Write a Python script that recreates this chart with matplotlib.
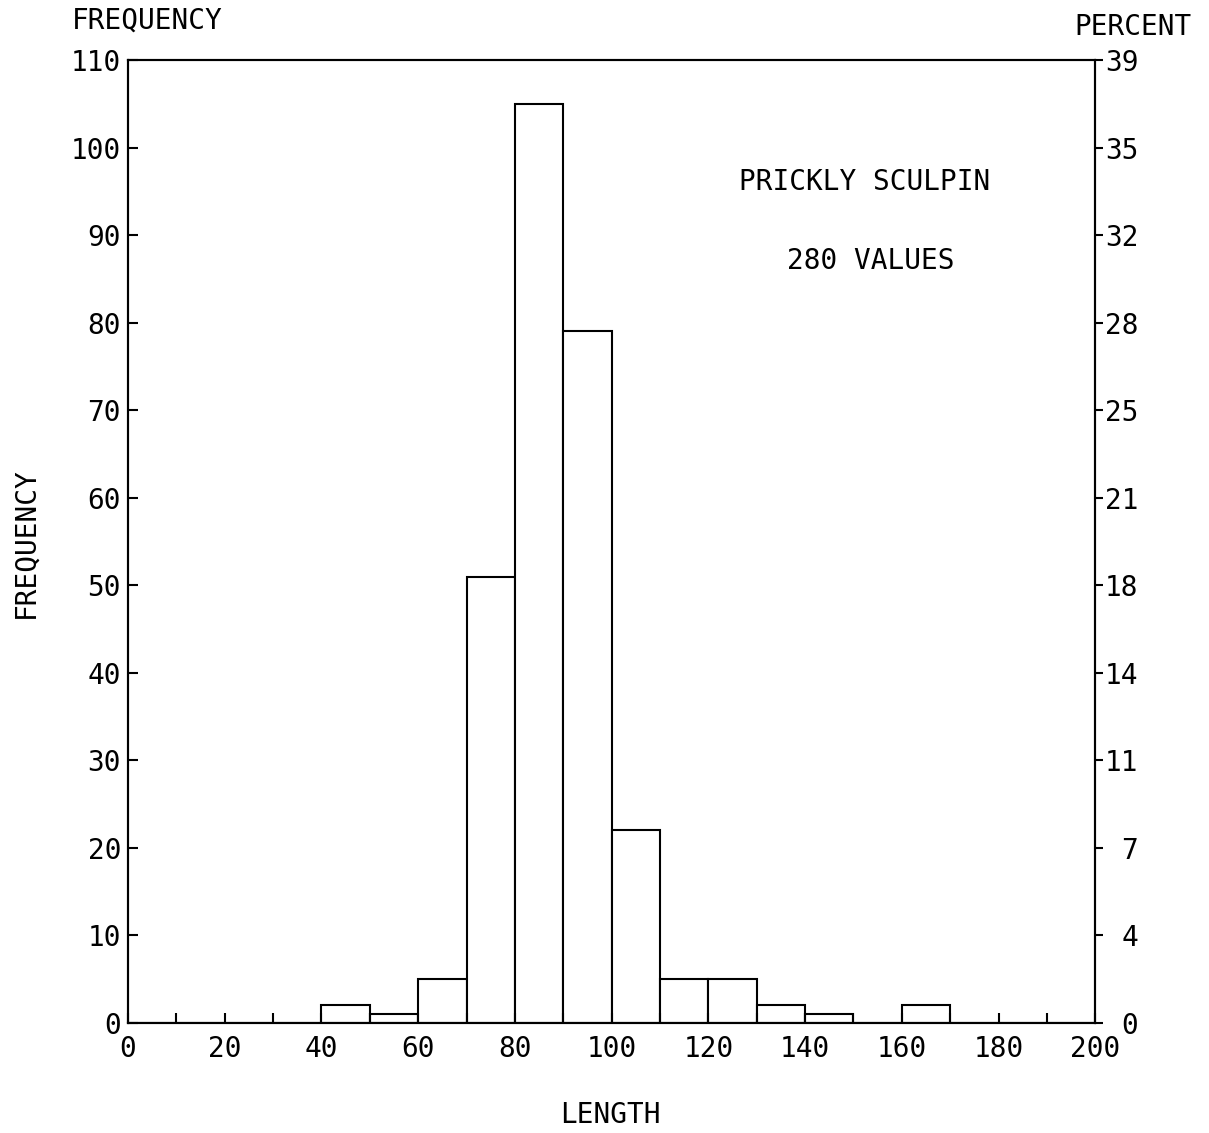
import numpy as np
import matplotlib
matplotlib.use("Agg")
import matplotlib.pyplot as plt

# histogram of lengths, 10-unit bins from 0 to 200
bin_left = [0, 10, 20, 30, 40, 50, 60, 70, 80, 90,
            100, 110, 120, 130, 140, 150, 160, 170, 180, 190]
counts = [0, 0, 0, 0, 2, 1, 5, 51, 105, 79,
          22, 5, 5, 2, 1, 0, 2, 0, 0, 0]
freq_ticks = [0, 10, 20, 30, 40, 50, 60, 70, 80, 90, 100, 110]
percent_labels = ['0', '4', '7', '11', '14', '18', '21', '25', '28', '32', '35', '39']

plt.rcParams['font.family'] = ['DejaVu Sans Mono']
FS = 20

fig = plt.figure(figsize=(12.09, 11.33), dpi=100)
ax = fig.add_axes([0.1059, 0.0971, 0.8, 0.8499])

ax.bar(bin_left, counts, width=10, align='edge', color='white',
       edgecolor='black', linewidth=1.5)

ax.set_xlim(0, 200)
ax.set_ylim(0, 110)
for s in ax.spines.values():
    s.set_linewidth(1.5)

ax.set_xticks(np.arange(0, 201, 20))
ax.set_xticks(np.arange(10, 200, 20), minor=True)
ax.set_yticks(freq_ticks)
ax.tick_params(axis='x', which='both', direction='in', length=7, width=1.5,
               labelsize=FS, pad=9)
ax.tick_params(axis='y', direction='in', length=7, width=1.5,
               labelsize=FS, pad=5)

# percent axis on the right, labels right-aligned
ax2 = ax.twinx()
ax2.set_ylim(0, 110)
ax2.set_yticks(freq_ticks)
ax2.set_yticklabels(percent_labels, ha='right')
ax2.tick_params(axis='y', direction='out', length=6, width=1.5,
                labelsize=FS, pad=25)
for s in ax2.spines.values():
    s.set_linewidth(1.5)

ax.text(0.762, 0.873, 'PRICKLY SCULPIN', transform=ax.transAxes,
        ha='center', va='center', fontsize=FS)
ax.text(0.768, 0.791, '280 VALUES', transform=ax.transAxes,
        ha='center', va='center', fontsize=FS)

fig.text(0.0596, 0.9815, 'FREQUENCY', ha='left', va='center', fontsize=FS)
fig.text(0.937, 0.976, 'PERCENT', ha='center', va='center', fontsize=FS)
fig.text(0.0207, 0.521, 'FREQUENCY', rotation=90, ha='center', va='center', fontsize=FS)
fig.text(0.5045, 0.0159, 'LENGTH', ha='center', va='center', fontsize=FS)

fig.savefig('out.png', dpi=100)
